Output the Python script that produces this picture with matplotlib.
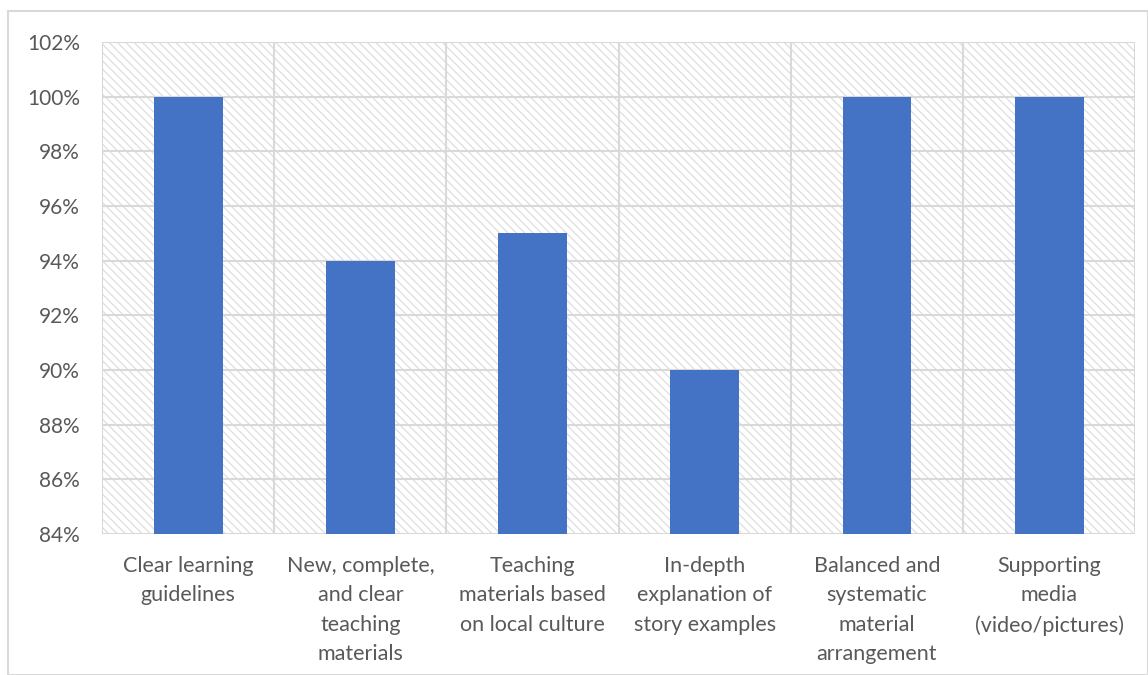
import matplotlib
matplotlib.use("Agg")
import matplotlib.pyplot as plt
from matplotlib.patches import Rectangle
from matplotlib.ticker import FuncFormatter, MultipleLocator

categories = [
    "Clear learning\nguidelines",
    "New, complete,\nand clear\nteaching\nmaterials",
    "Teaching\nmaterials based\non local culture",
    "In-depth\nexplanation of\nstory examples",
    "Balanced and\nsystematic\nmaterial\narrangement",
    "Supporting\nmedia\n(video/pictures)",
]
values = [100, 94, 95, 90, 100, 100]

plt.rcParams["font.family"] = ["Lato", "DejaVu Sans"]
plt.rcParams["hatch.linewidth"] = 0.9

fig = plt.figure(figsize=(11.48, 6.75), dpi=100)

# outer chart frame
fig.patches.append(Rectangle((0.007, 0.0), 0.993, 0.983, transform=fig.transFigure,
                             fill=False, edgecolor="#d9d9d9", linewidth=1.5))

ax = fig.add_axes([0.0889, 0.2089, 0.9, 0.7289])

# hatched plot-area background
ax.add_patch(Rectangle((0, 0), 1, 1, transform=ax.transAxes, facecolor="white",
                       edgecolor="#dedede", linewidth=0, hatch="\\\\\\\\", zorder=0))

x = list(range(len(categories)))
ax.bar(x, values, width=0.4, color="#4472c4", zorder=3)

ax.set_xlim(-0.5, len(categories) - 0.5)
ax.set_ylim(84, 102)
ax.yaxis.set_major_locator(MultipleLocator(2))
ax.yaxis.set_major_formatter(FuncFormatter(lambda v, p: f"{v:.0f}%"))

# horizontal gridlines and category separators
for yv in range(84, 103, 2):
    ax.axhline(yv, color="#d9d9d9", linewidth=1.5, zorder=1)
for b in range(len(categories) + 1):
    ax.axvline(b - 0.5, color="#d9d9d9", linewidth=1.5, zorder=1)

for s in ax.spines.values():
    s.set_visible(False)

ax.set_xticks(x)
ax.set_xticklabels(categories, fontsize=15.5, color="#595959", linespacing=1.58, va="top")
ax.tick_params(axis="x", length=0, pad=16)
ax.tick_params(axis="y", length=0, pad=16, labelsize=15, labelcolor="#595959")

fig.savefig("out.png", dpi=100)
